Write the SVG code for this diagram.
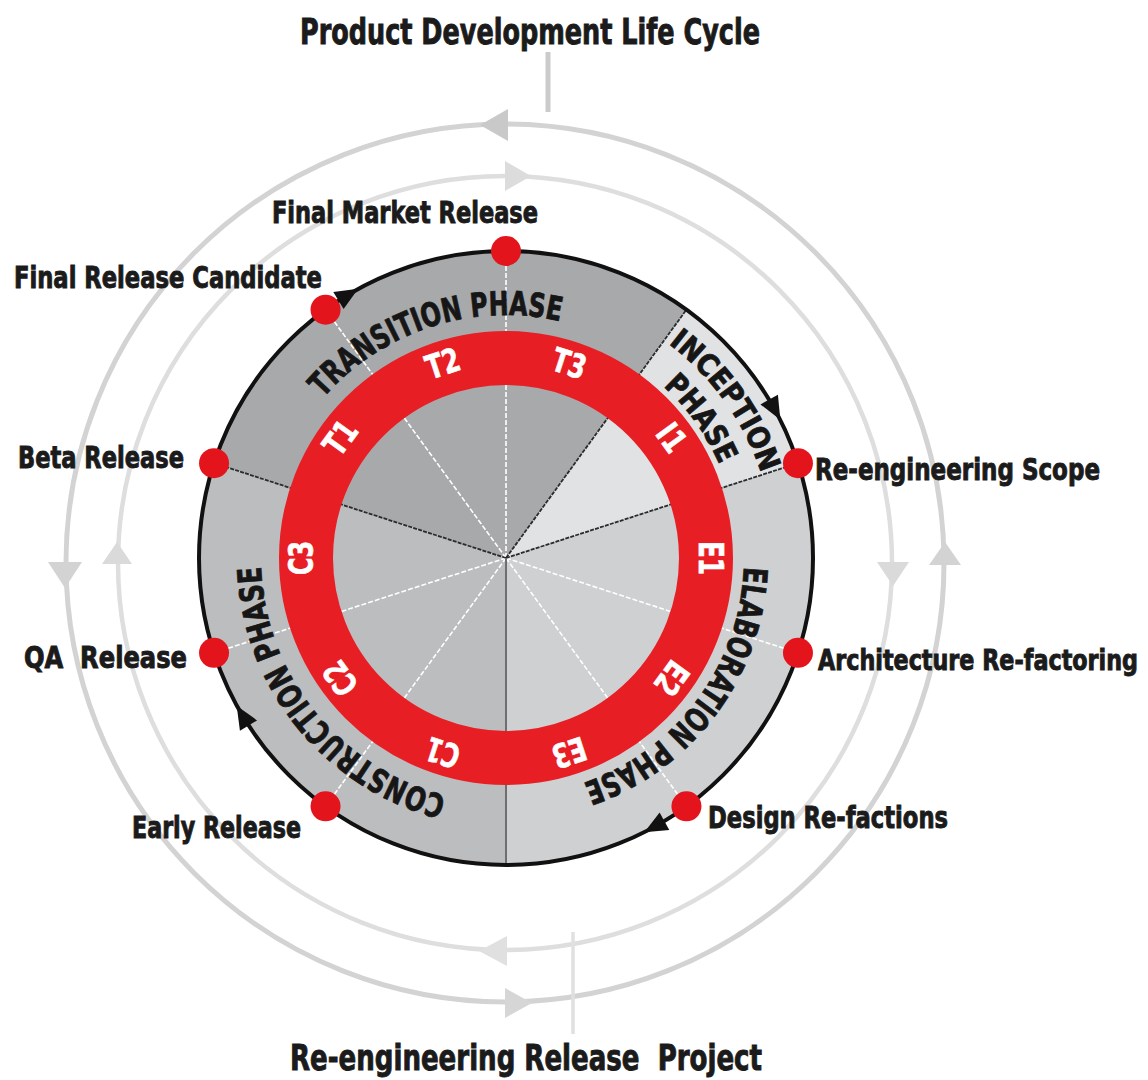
<svg xmlns="http://www.w3.org/2000/svg" width="1148" height="1080" viewBox="0 0 1148 1080">
<defs>
<style>
.lbl{font-family:'Liberation Sans Narrow','DejaVu Sans Condensed','Liberation Sans',sans-serif;font-weight:bold;font-size:30px;fill:#1b1b1b;stroke:#1b1b1b;stroke-width:0.9px}
.ttl{font-size:36px}
.ph{font-family:'Liberation Sans Narrow','DejaVu Sans Condensed','Liberation Sans',sans-serif;font-weight:bold;font-size:33px;fill:#161616;stroke:#161616;stroke-width:0.8px;text-anchor:middle}
.it{font-family:'Liberation Sans Narrow','DejaVu Sans Condensed','Liberation Sans',sans-serif;font-weight:bold;font-size:33px;fill:#ffffff;stroke:#ffffff;stroke-width:0.6px;text-anchor:middle}
.wl{stroke:#ffffff;stroke-width:1.6;stroke-dasharray:5 2;fill:none}
.dl{stroke:#2b2b2b;stroke-width:1.8;stroke-dasharray:4 1.2;fill:none}
.dot{fill:#e3141c}
.ah{fill:#111111}
.ring1{fill:none;stroke:#d3d3d3;stroke-width:5}
.ring2{fill:none;stroke:#dedede;stroke-width:4.5}
</style>
<path id="p243" d="M0,243 A243,243 0 1 1 0,-243 A243,243 0 1 1 0,243"/>
<path id="p238" d="M0,238 A238,238 0 1 1 0,-238 A238,238 0 1 1 0,238"/>
<path id="p245" d="M0,245 A245,245 0 1 1 0,-245 A245,245 0 1 1 0,245"/>
<path id="p269" d="M0,269 A269,269 0 1 1 0,-269 A269,269 0 1 1 0,269"/>
<path id="p233" d="M0,233 A233,233 0 1 1 0,-233 A233,233 0 1 1 0,233"/>
<polygon id="bah" points="12,0 -11,-10 -11,10"/>
</defs>
<rect width="1148" height="1080" fill="#ffffff"/>

<g id="connectors">
  <line x1="548" y1="52" x2="548" y2="112" stroke="#cbcbcb" stroke-width="5"/>
  <circle class="ring1" cx="505" cy="563" r="439"/>
  <circle class="ring2" cx="505" cy="563" r="387"/>
  <line x1="573" y1="932" x2="573" y2="1034" stroke="#e0e0e0" stroke-width="3.5"/>
  <polygon points="480,125 508,109 508,141" fill="#c9c9c9"/>
  <polygon points="531,176 505,161 505,191" fill="#dcdcdc"/>
  <polygon points="65,588 48,562 82,562" fill="#d3d3d3"/>
  <polygon points="117,542 102,564 132,564" fill="#dadada"/>
  <polygon points="893,586 877,562 909,562" fill="#dadada"/>
  <polygon points="945,542 929,565 961,565" fill="#d3d3d3"/>
  <polygon points="479,951 507,936 507,966" fill="#e0e0e0"/>
  <polygon points="532,1003 505,988 505,1018" fill="#d6d6d6"/>
</g>

<g id="wheel" transform="translate(506,558)">
  <path id="transition-sector" d="M0,0 L-291.97,-94.87 A307,307 0 0 1 180.45,-248.37 Z" fill="#a8a9ab"/>
  <path id="inception-sector" d="M0,0 L180.45,-248.37 A307,307 0 0 1 291.97,-94.87 Z" fill="#e1e2e4"/>
  <path id="elaboration-sector" d="M0,0 L291.97,-94.87 A307,307 0 0 1 0,307 Z" fill="#cfd0d2"/>
  <path id="construction-sector" d="M0,0 L0,307 A307,307 0 0 1 -291.97,-94.87 Z" fill="#bcbdbf"/>
  <g id="dividers">
    <line class="wl" x1="0" y1="0" x2="0" y2="-307"/>
    <line class="wl" x1="0" y1="0" x2="-180.45" y2="-248.37"/>
    <line class="wl" x1="0" y1="0" x2="291.97" y2="94.87"/>
    <line class="wl" x1="0" y1="0" x2="180.45" y2="248.37"/>
    <line class="wl" x1="0" y1="0" x2="-180.45" y2="248.37"/>
    <line class="wl" x1="0" y1="0" x2="-291.97" y2="94.87"/>
    <line class="dl" x1="0" y1="0" x2="180.45" y2="-248.37"/>
    <line class="dl" x1="0" y1="0" x2="291.97" y2="-94.87"/>
    <line class="dl" x1="0" y1="0" x2="-291.97" y2="-94.87"/>
    <line x1="0" y1="0" x2="0" y2="307" stroke="#6e6e6e" stroke-width="2"/>
  </g>
  <circle id="iteration-ring" r="200" fill="none" stroke="#e81e25" stroke-width="54"/>
  <g id="iterations">
    <text id="T1" class="it" transform="rotate(306)" x="0" y="-193" textLength="34" lengthAdjust="spacingAndGlyphs">T1</text>
    <text id="T2" class="it" transform="rotate(342)" x="0" y="-193" textLength="34" lengthAdjust="spacingAndGlyphs">T2</text>
    <text id="T3" class="it" transform="rotate(18)" x="0" y="-193" textLength="34" lengthAdjust="spacingAndGlyphs">T3</text>
    <text id="I1" class="it" transform="rotate(54)" x="0" y="-193" textLength="27" lengthAdjust="spacingAndGlyphs">I1</text>
    <text id="E1" class="it" transform="rotate(90)" x="0" y="-193" textLength="34" lengthAdjust="spacingAndGlyphs">E1</text>
    <text id="E2" class="it" transform="rotate(126)" x="0" y="-193" textLength="34" lengthAdjust="spacingAndGlyphs">E2</text>
    <text id="E3" class="it" transform="rotate(162)" x="0" y="-193" textLength="34" lengthAdjust="spacingAndGlyphs">E3</text>
    <text id="C1" class="it" transform="rotate(198)" x="0" y="-193" textLength="34" lengthAdjust="spacingAndGlyphs">C1</text>
    <text id="C2" class="it" transform="rotate(234)" x="0" y="-193" textLength="34" lengthAdjust="spacingAndGlyphs">C2</text>
    <text id="C3" class="it" transform="rotate(270)" x="0" y="-193" textLength="34" lengthAdjust="spacingAndGlyphs">C3</text>
  </g>
  <g id="phase-labels">
    <text id="transition-label" class="ph"><textPath href="#p243" startOffset="687.1" textLength="261.7" lengthAdjust="spacingAndGlyphs">TRANSITION PHASE</textPath></text>
    <text id="elaboration-label" class="ph"><textPath href="#p238" startOffset="1273.2" textLength="286.6" lengthAdjust="spacingAndGlyphs">ELABORATION PHASE</textPath></text>
    <text id="construction-label" class="ph"><textPath href="#p245" startOffset="218.1" textLength="316.4" lengthAdjust="spacingAndGlyphs">CONSTRUCTION PHASE</textPath></text>
    <text id="inception-label-1" class="ph" style="font-size:30px"><textPath href="#p269" startOffset="1100" textLength="161.4" lengthAdjust="spacingAndGlyphs">INCEPTION</textPath></text>
    <text id="inception-label-2" class="ph" style="font-size:30px"><textPath href="#p233" startOffset="953" textLength="97.6" lengthAdjust="spacingAndGlyphs">PHASE</textPath></text>
  </g>
  <circle id="cycle" r="307" fill="none" stroke="#111111" stroke-width="4"/>
  <use href="#bah" class="ah" transform="rotate(61) translate(0,-307)"/>
  <use href="#bah" class="ah" transform="rotate(151) translate(0,-307)"/>
  <use href="#bah" class="ah" transform="rotate(239) translate(0,-307)"/>
  <use href="#bah" class="ah" transform="rotate(329) translate(0,-307)"/>
</g>

<g id="title"><text class="lbl ttl" x="300" y="44" textLength="460" lengthAdjust="spacingAndGlyphs">Product Development Life Cycle</text></g>
<g id="final-market-release"><circle class="dot" cx="506" cy="251" r="15"/><text class="lbl" x="272" y="223" textLength="266" lengthAdjust="spacingAndGlyphs">Final Market Release</text></g>
<g id="final-release-candidate"><circle class="dot" cx="325.55" cy="309.63" r="15"/><text class="lbl" x="14" y="288" textLength="308" lengthAdjust="spacingAndGlyphs">Final Release Candidate</text></g>
<g id="beta-release"><circle class="dot" cx="214.03" cy="463.13" r="15"/><text class="lbl" x="18" y="468" textLength="166" lengthAdjust="spacingAndGlyphs">Beta Release</text></g>
<g id="qa-release"><circle class="dot" cx="214.03" cy="652.87" r="15"/><text class="lbl" x="24" y="668" textLength="163" lengthAdjust="spacingAndGlyphs" xml:space="preserve">QA  Release</text></g>
<g id="early-release"><circle class="dot" cx="325.55" cy="806.37" r="15"/><text class="lbl" x="132" y="838" textLength="169" lengthAdjust="spacingAndGlyphs">Early Release</text></g>
<g id="re-engineering-scope"><circle class="dot" cx="797.97" cy="463.13" r="15"/><text class="lbl" x="815" y="480" textLength="285" lengthAdjust="spacingAndGlyphs">Re-engineering Scope</text></g>
<g id="architecture-re-factoring"><circle class="dot" cx="797.97" cy="652.87" r="15"/><text class="lbl" x="818" y="670" style="font-size:28px" textLength="320" lengthAdjust="spacingAndGlyphs">Architecture Re-factoring</text></g>
<g id="design-re-factions"><circle class="dot" cx="686.45" cy="806.37" r="15"/><text class="lbl" x="708" y="828" textLength="240" lengthAdjust="spacingAndGlyphs">Design Re-factions</text></g>
<g id="project-title"><text class="lbl ttl" x="290" y="1070" textLength="472" lengthAdjust="spacingAndGlyphs" xml:space="preserve">Re-engineering Release  Project</text></g>
</svg>
